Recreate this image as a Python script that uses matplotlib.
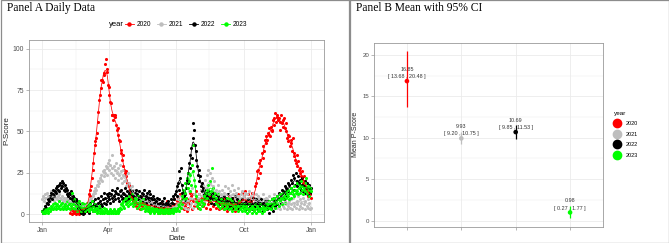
import numpy as np
import pandas as pd
import matplotlib
matplotlib.use("Agg")
import matplotlib.pyplot as plt
import matplotlib.dates as mdates
from matplotlib.lines import Line2D
from matplotlib.patches import Rectangle

# ---------------- data ----------------
years = ["2020", "2021", "2022", "2023"]
colors = ["#FF0000", "#BEBEBE", "#000000", "#00FF00"]

# daily P-scores on a common (dummy-year) date axis, month by month
p2020_feb = [1, 3, 0, 2, 4, 1, 2, 0, 3, 1, 5, 2, 0, 3, 1, 4, 2, 6, 3, 1, 4]  # from Feb 8
p2020_mar = [3, 5, 2, 7, 12, 15, 11, 17, 22, 27, 31, 37, 44, 42, 46, 49, 56, 62, 69, 72, 76, 81, 81, 80, 85, 84, 91, 94, 88, 86, 78]
p2020_apr = [77, 72, 68, 67, 60, 60, 57, 60, 59, 60, 54, 51, 52, 48, 45, 44, 39, 37, 33, 36, 29, 27, 25, 23, 26, 19, 18, 18, 17, 13]
p2020_may = [11, 9, 12, 8, 7, 10, 6, 5, 8, 4, 9, 6, 3, 7, 11, 5, 8, 4, 6, 10, 3, 7, 5, 9, 2, 6, 4, 8, 3, 5, 7]
p2020_jun = [4, 6, 2, 5, 8, 3, 1, 6, 4, 2, 7, 3, 5, 1, 4, 6, 2, 3, 8, 5, 1, 4, 2, 6, 3, 7, 2, 5, 9, 4]
p2020_jul = [6, 3, 8, 10, 5, 7, 12, 4, 9, 6, 11, 3, 8, 5, 10, 2, 7, 4, 9, 13, 6, 11, 3, 8, 12, 5, 9, 14, 7, 10, 4]
p2020_aug = [8, 12, 6, 15, 9, 11, 5, 13, 7, 10, 4, 9, 12, 6, 8, 11, 3, 7, 10, 5, 9, 6, 12, 4, 8, 11, 5, 7, 3, 9, 6]
p2020_sep = [4, 8, 6, 10, 3, 7, 5, 9, 2, 6, 11, 4, 8, 5, 3, 7, 10, 4, 6, 2, 8, 5, 12, 3, 7, 4, 9, 6, 13, 5]
p2020_oct = [11, 7, 14, 4, 9, 6, 12, 8, 3, 10, 5, 7, 13, 4, 9, 6, 17, 19, 26, 22, 27, 31, 25, 33, 29, 37, 34, 41, 38, 45, 43]
p2020_nov = [47, 45, 49, 48, 52, 47, 53, 50, 51, 57, 54, 58, 61, 56, 59, 60, 57, 58, 51, 56, 60, 55, 57, 53, 58, 52, 55, 50, 46, 48]
p2020_dec = [44, 47, 41, 45, 43, 38, 46, 35, 37, 33, 31, 36, 29, 32, 27, 25, 28, 23, 26, 21, 19, 23, 17, 20, 15, 13, 16, 11, 14, 12, 10]

p2021 = [
    [9, 11, 8, 12, 10, 7, 13, 9, 11, 10, 8, 12, 14, 9, 10, 11, 8, 12, 13, 10, 9, 11, 8, 12, 10, 9, 7, 11, 8, 10, 9],
    [8, 10, 7, 9, 6, 8, 10, 7, 5, 8, 6, 9, 7, 5, 6, 8, 4, 6, 7, 5, 3, 6, 4, 5, 7, 3, 5, 6],
    [4, 6, 5, 7, 8, 6, 9, 10, 8, 12, 11, 14, 13, 16, 15, 18, 17, 20, 19, 22, 21, 24, 20, 26, 23, 27, 25, 29, 24, 28, 31],
    [33, 27, 30, 25, 36, 28, 24, 29, 22, 27, 31, 25, 21, 28, 24, 30, 22, 26, 19, 24, 27, 20, 23, 17, 21, 18, 25, 15, 19, 16],
    [14, 17, 12, 15, 11, 13, 10, 12, 9, 14, 8, 11, 10, 7, 9, 12, 8, 6, 10, 7, 9, 5, 8, 11, 6, 7, 9, 5, 8, 6, 7],
    [5, 7, 4, 6, 8, 3, 5, 7, 4, 6, 3, 5, 8, 4, 6, 2, 5, 7, 3, 4, 6, 2, 5, 3, 7, 4, 2, 5, 3, 6],
    [4, 7, 5, 9, 3, 11, 6, 8, 13, 5, 10, 7, 4, 12, 9, 6, 3, 8, 14, 5, 10, 7, 16, 4, 9, 12, 6, 11, 8, 5, 10],
    [7, 12, 9, 15, 6, 11, 18, 8, 13, 21, 10, 24, 16, 27, 12, 19, 25, 14, 22, 9, 17, 20, 11, 15, 8, 13, 18, 10, 14, 7, 12],
    [9, 15, 11, 6, 13, 17, 8, 12, 10, 16, 7, 14, 11, 9, 18, 6, 12, 15, 8, 10, 13, 7, 11, 16, 9, 6, 12, 10, 14, 8],
    [11, 7, 13, 9, 6, 12, 10, 8, 14, 5, 11, 9, 7, 13, 6, 10, 8, 12, 5, 9, 11, 7, 4, 10, 8, 6, 12, 5, 9, 7, 10],
    [6, 9, 4, 8, 11, 5, 7, 10, 3, 8, 6, 12, 5, 9, 7, 4, 10, 6, 8, 3, 11, 7, 5, 9, 4, 8, 6, 10, 3, 7],
    [5, 8, 4, 9, 6, 3, 10, 7, 5, 12, 4, 8, 6, 11, 3, 9, 5, 7, 14, 4, 10, 6, 8, 3, 12, 5, 9, 4, 7, 3, 4],
]

p2022 = [
    [2, 1, 3, 2, 5, 4, 7, 6, 9, 8, 11, 10, 13, 9, 12, 15, 11, 14, 16, 13, 17, 15, 18, 14, 19, 16, 20, 17, 19, 15, 18],
    [14, 16, 12, 15, 11, 13, 10, 12, 14, 9, 11, 8, 10, 7, 9, 6, 8, 4, 6, 3, 5, 2, 1, 3, 0, 2, 1, 4],
    [2, 5, 3, 6, 1, 4, 7, 3, 5, 8, 2, 6, 4, 9, 5, 3, 7, 10, 4, 8, 6, 11, 5, 9, 13, 7, 10, 6, 12, 8, 11],
    [9, 13, 7, 12, 10, 15, 8, 11, 14, 9, 13, 16, 10, 12, 8, 14, 11, 15, 9, 13, 10, 12, 16, 8, 11, 14, 9, 13, 10, 15],
    [12, 9, 14, 11, 8, 13, 10, 15, 7, 12, 9, 14, 11, 6, 10, 13, 8, 12, 15, 9, 11, 7, 13, 10, 14, 8, 12, 6, 10, 9, 11],
    [7, 9, 5, 8, 10, 4, 6, 9, 3, 7, 5, 8, 4, 6, 10, 3, 5, 7, 4, 6, 8, 3, 5, 9, 4, 7, 11, 6, 9, 12],
    [14, 11, 17, 19, 15, 26, 22, 28, 18, 13, 9, 11, 8, 12, 16, 21, 19, 25, 31, 28, 36, 40, 34, 46, 55, 51, 42, 38, 33, 29, 24],
    [27, 20, 23, 17, 19, 14, 16, 12, 15, 10, 13, 9, 11, 14, 8, 12, 10, 7, 11, 9, 13, 6, 10, 8, 12, 7, 9, 11, 6, 8, 10],
    [7, 9, 5, 11, 8, 6, 10, 4, 8, 12, 6, 9, 5, 7, 10, 4, 8, 6, 11, 5, 7, 9, 4, 6, 8, 3, 7, 5, 9, 6],
    [4, 7, 5, 8, 3, 6, 9, 4, 7, 5, 8, 3, 6, 10, 4, 7, 5, 9, 6, 3, 8, 5, 7, 4, 9, 6, 2, 7, 5, 8, 4],
    [6, 3, 8, 5, 1, 7, 4, 9, 6, 2, 8, 10, 5, 7, 11, 6, 9, 13, 8, 12, 7, 15, 10, 14, 9, 17, 12, 16, 11, 19],
    [14, 18, 13, 21, 16, 19, 24, 15, 22, 18, 25, 20, 17, 23, 19, 16, 21, 15, 18, 22, 14, 17, 20, 13, 16, 19, 12, 15, 18, 13, 16],
]

p2023 = [
    [2, 1, 3, 2, 1, 2, 3, 1, 2, 4, 2, 3, 5, 4, 3, 6, 4, 7, 5, 3, 6, 4, 8, 5, 3, 6, 4, 7, 3, 5, 4],
    [6, 3, 5, 8, 4, 6, 3, 7, 5, 13, 4, 6, 9, 3, 5, 7, 2, 6, 4, 8, 3, 5, 2, 7, 4, 3, 6, 2],
    [4, 7, 3, 5, 2, 6, 4, 3, 8, 2, 5, 3, 6, 2, 4, 1, 3, 2, 5, 1, 2, 3, 1, 2, 4, 1, 2, 3, 1, 2, 1],
    [2, 1, 3, 1, 2, 2, 1, 3, 1, 2, 1, 2, 3, 1, 2, 4, 6, 3, 7, 5, 8, 4, 9, 6, 10, 7, 5, 8, 11, 6],
    [9, 7, 12, 5, 8, 10, 6, 9, 4, 7, 11, 5, 8, 6, 3, 7, 9, 4, 6, 2, 5, 3, 4, 2, 3, 5, 1, 3, 2, 4, 2],
    [3, 1, 2, 4, 2, 3, 1, 2, 3, 1, 4, 2, 1, 3, 2, 1, 3, 2, 4, 1, 2, 3, 1, 2, 2, 3, 1, 4, 2, 3],
    [2, 4, 3, 6, 2, 5, 8, 4, 11, 6, 15, 9, 13, 19, 10, 22, 16, 25, 20, 14, 24, 18, 30, 42, 26, 21, 17, 11, 8, 5, 7],
    [4, 6, 3, 8, 5, 9, 7, 11, 6, 13, 9, 15, 10, 18, 12, 8, 20, 14, 28, 11, 16, 9, 13, 7, 10, 6, 12, 5, 8, 4, 7],
    [9, 5, 7, 3, 8, 6, 4, 10, 5, 7, 3, 9, 6, 4, 8, 2, 6, 5, 3, 7, 4, 6, 2, 5, 8, 3, 6, 4, 2, 5],
    [3, 6, 2, 4, 5, 1, 3, 6, 2, 4, 3, 5, 1, 4, 2, 6, 3, 1, 5, 2, 4, 3, 6, 2, 4, 1, 5, 3, 2, 4, 6],
    [3, 5, 7, 4, 8, 6, 3, 9, 5, 7, 10, 6, 4, 8, 11, 7, 9, 5, 12, 8, 10, 6, 13, 9, 11, 7, 14, 10, 12, 15],
    [11, 9, 13, 16, 10, 14, 12, 17, 11, 15, 13, 19, 14, 12, 16, 18, 13, 20, 15, 17, 12, 16, 19, 14, 22, 13, 17, 15, 11, 16, 14],
]

p2020 = [p2020_feb, p2020_mar, p2020_apr, p2020_may, p2020_jun, p2020_jul,
         p2020_aug, p2020_sep, p2020_oct, p2020_nov, p2020_dec]
series_start = {"2020": "2021-02-08", "2021": "2021-01-01",
                "2022": "2021-01-01", "2023": "2021-01-01"}
daily = {"2020": p2020, "2021": p2021, "2022": p2022, "2023": p2023}

# Panel B: mean with 95% CI
ci_mean = [16.85, 9.93, 10.69, 0.98]
ci_low = [13.68, 9.20, 9.85, 0.27]
ci_high = [20.48, 10.75, 11.53, 1.77]

# ---------------- figure ----------------
W, H = 669, 243
fig = plt.figure(figsize=(W / 100, H / 100), dpi=100)
fig.patch.set_facecolor("white")

SANS = ["Liberation Sans", "DejaVu Sans"]
SERIF = ["Liberation Serif", "DejaVu Serif"]
GRID = "#EBEBEB"
BORDER = "#9A9A9A"
TICKC = "#4D4D4D"

def fx(px):
    return px / W

def fy(py):
    return 1 - py / H

# panel frames
for x0, x1 in [(0.5, 349.5), (349.5, 668.5)]:
    fig.patches.append(Rectangle((fx(x0), fy(242.5)), fx(x1 - x0), (242.0) / H,
                                 transform=fig.transFigure, fill=False,
                                 edgecolor="#8C8C8C", linewidth=0.9))

fig.text(fx(7), fy(8), "Panel A Daily Data", family=SERIF, fontsize=8.3, va="center", ha="left")
fig.text(fx(356), fy(8), "Panel B Mean with 95% CI", family=SERIF, fontsize=8.3, va="center", ha="left")

def style_axes(ax):
    for s in ax.spines.values():
        s.set_color(BORDER)
        s.set_linewidth(0.6)
    ax.tick_params(axis="both", which="major", length=2, width=0.5, color=BORDER,
                   labelcolor=TICKC, pad=1.5)
    ax.tick_params(axis="both", which="minor", length=0)
    ax.set_axisbelow(True)
    ax.grid(True, which="major", color=GRID, linewidth=0.6)
    ax.grid(True, which="minor", color=GRID, linewidth=0.3)
    for lab in ax.get_xticklabels() + ax.get_yticklabels():
        lab.set_family(SANS)

# ---------------- Panel A ----------------
axA = fig.add_axes([fx(29), fy(222), fx(324 - 29), (222 - 40) / H])
frames = {}
for y in years:
    vals = np.concatenate([np.array(m, dtype=float) for m in daily[y]])
    dates = pd.date_range(series_start[y], periods=len(vals), freq="D")
    frames[y] = pd.Series(vals, index=dates)

for y, c in zip(years, colors):
    s = frames[y]
    axA.scatter(s.index.to_numpy(), s.values, s=5, color=c, linewidths=0, zorder=2)
for y, c in zip(years, colors):
    s = frames[y]
    smooth = s.rolling(7, center=True, min_periods=1).mean()
    axA.plot(smooth.index.to_numpy(), smooth.values, color=c, linewidth=0.55, zorder=3)

d0 = mdates.date2num(pd.Timestamp("2021-01-01"))
d1 = mdates.date2num(pd.Timestamp("2021-12-31"))
span = d1 - d0
axA.set_xlim(d0 - 0.05 * span, d1 + 0.05 * span)
axA.set_ylim(-4.6, 105.2)
axA.xaxis.set_major_locator(mdates.MonthLocator(bymonth=[1, 4, 7, 10]))
axA.xaxis.set_major_formatter(mdates.DateFormatter("%b"))
axA.xaxis.set_minor_locator(mdates.MonthLocator(bymonth=[2, 5, 8, 11], bymonthday=15))
axA.set_yticks([0, 25, 50, 75, 100])
axA.set_yticks([12.5, 37.5, 62.5, 87.5], minor=True)
axA.tick_params(labelsize=4.9)
style_axes(axA)
axA.set_xlabel("Date", family=SANS, fontsize=5.8, labelpad=0.5, color="#222222")
axA.set_ylabel("P-Score", family=SANS, fontsize=5.8, labelpad=1.5, color="#222222")

# legend (horizontal, top)
handlesA = [Line2D([0], [0], color=c, lw=0.6, marker="o", markersize=2.2) for c in colors]
legA = fig.legend(handlesA, years, loc="center", bbox_to_anchor=(fx(186), fy(24.3)),
                  ncol=4, frameon=False, prop={"family": SANS, "size": 4.7},
                  handlelength=1.4, handletextpad=0.4, columnspacing=0.9, borderpad=0)
fig.text(fx(109), fy(24.3), "year", family=SANS, fontsize=5.5, va="center", ha="left")

# ---------------- Panel B ----------------
axB = fig.add_axes([fx(374.3), fy(226.7), fx(602.7 - 374.3), (226.7 - 42.7) / H])
xpos = np.arange(1, len(years) + 1)
for x, lo, hi, c in zip(xpos, ci_low, ci_high, colors):
    axB.plot([x, x], [lo, hi], color=c, linewidth=0.9, zorder=3, solid_capstyle="butt")
axB.scatter(xpos, ci_mean, s=11, c=colors, linewidths=0, zorder=4)
for x, m, lo, hi in zip(xpos, ci_mean, ci_low, ci_high):
    axB.text(x, m + 1.45, f"{m:.2f}", ha="center", va="center", family=SANS,
             fontsize=3.9, color="#333333", zorder=5)
    axB.text(x, m + 0.53, f"[ {lo:.2f} , {hi:.2f} ]", ha="center", va="center",
             family=SANS, fontsize=3.9, color="#333333", zorder=2)
rng = max(ci_high) - min(ci_low)
axB.set_xlim(0.4, len(years) + 0.6)
axB.set_ylim(min(ci_low) - 0.05 * rng, max(ci_high) + 0.05 * rng)
axB.set_xticks(xpos)
axB.set_xticklabels([])
axB.set_yticks([0, 5, 10, 15, 20])
axB.set_yticks([2.5, 7.5, 12.5, 17.5], minor=True)
axB.tick_params(labelsize=4.4)
style_axes(axB)
axB.set_ylabel("Mean P-Score", family=SANS, fontsize=5.0, labelpad=3, color="#222222")

handlesB = [Line2D([0], [0], color=c, lw=0, marker="o", markersize=6.0) for c in colors]
legB = fig.legend(handlesB, years, loc="upper left", bbox_to_anchor=(fx(611), fy(108)),
                  frameon=False, title="year", prop={"family": SANS, "size": 4.0},
                  title_fontproperties={"family": SANS, "size": 4.6},
                  handlelength=1.3, handletextpad=0.8, labelspacing=1.0, borderpad=0)
legB._legend_box.align = "left"

fig.savefig("out.png", dpi=100, facecolor="white")
